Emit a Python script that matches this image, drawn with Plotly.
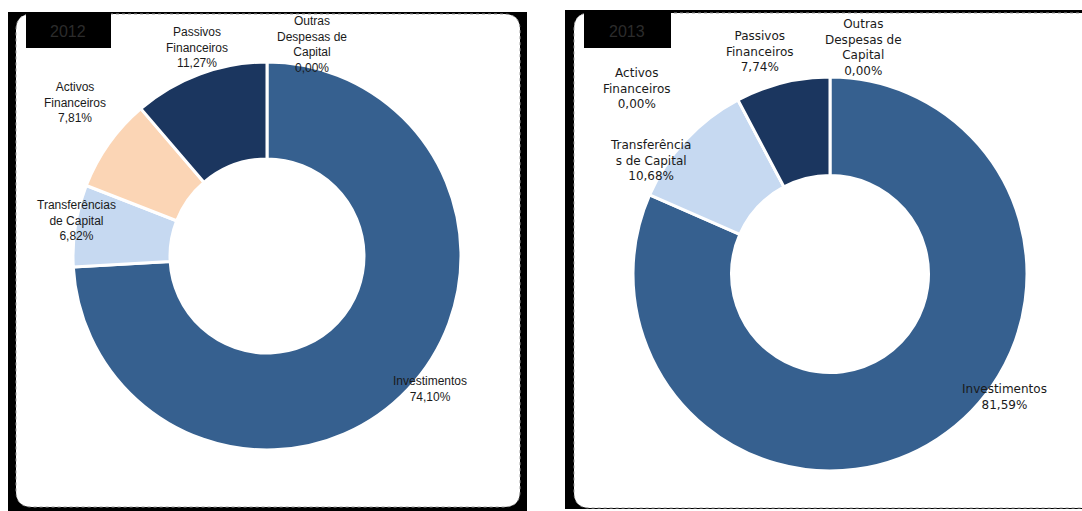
import plotly.graph_objects as go

# Capital expenditure structure, two years
categories = ["Outras Despesas de Capital", "Investimentos", "Transferências de Capital",
              "Activos Financeiros", "Passivos Financeiros"]
years = ["2012", "2013"]
values_left = [0.00, 74.10, 6.82, 7.81, 11.27]
values_right = [0.00, 81.59, 10.68, 0.00, 7.74]

colors = ["#36608F", "#36608F", "#C6D9F1", "#FBD5B5", "#1B365F"]

# how each category name is wrapped in each panel
wrap_left = {
    "Outras Despesas de Capital": "Outras<br>Despesas de<br>Capital",
    "Investimentos": "Investimentos",
    "Transferências de Capital": "Transferências<br>de Capital",
    "Activos Financeiros": "Activos<br>Financeiros",
    "Passivos Financeiros": "Passivos<br>Financeiros",
}
wrap_right = dict(wrap_left)
wrap_right["Transferências de Capital"] = "Transferência<br>s de Capital"

W, H = 1082, 511


def px(x):
    return x / W


def py(y):
    return 1 - y / H


def pct(v):
    return f"{v:.2f}".replace(".", ",") + "%"


fig = go.Figure()


def add_pie(values, cx, cy, r):
    fig.add_trace(go.Pie(
        labels=categories, values=values, sort=False, direction="clockwise",
        rotation=0, hole=0.5, textinfo="none", hoverinfo="label+percent",
        marker=dict(colors=colors, line=dict(color="white", width=3)),
        domain=dict(x=[px(cx - r), px(cx + r)], y=[py(cy + r), py(cy - r)]),
        showlegend=False,
    ))


add_pie(values_left, 267, 256, 194)
add_pie(values_right, 830, 274, 197)

shapes = []


def rounded(x0, y0, x1, y1, rad):
    X0, X1 = px(x0), px(x1)
    Y0, Y1 = py(y0), py(y1)
    rx, ry = rad / W, rad / H
    return (f"M {X0+rx},{Y0} L {X1-rx},{Y0} Q {X1},{Y0} {X1},{Y0-ry} "
            f"L {X1},{Y1+ry} Q {X1},{Y1} {X1-rx},{Y1} L {X0+rx},{Y1} "
            f"Q {X0},{Y1} {X0},{Y1+ry} L {X0},{Y0-ry} Q {X0},{Y0} {X0+rx},{Y0} Z")


# left panel frame
shapes.append(dict(type="rect", xref="paper", yref="paper", x0=px(8), x1=px(527),
                   y0=py(511), y1=py(12), fillcolor="black", line=dict(width=0), layer="below"))
shapes.append(dict(type="path", xref="paper", yref="paper", path=rounded(16, 14, 520, 507, 16),
                   fillcolor="white", line=dict(color="#9a9a9a", width=1, dash="dot"), layer="below"))
# right panel frame
shapes.append(dict(type="rect", xref="paper", yref="paper", x0=px(565), x1=px(1090),
                   y0=py(509), y1=py(10), fillcolor="black", line=dict(width=0), layer="below"))
shapes.append(dict(type="path", xref="paper", yref="paper", path=rounded(574, 13, 1110, 508, 16),
                   fillcolor="white", line=dict(color="#9a9a9a", width=1, dash="dot"), layer="below"))
# year boxes
for x0, x1 in [(26, 111), (584, 671)]:
    shapes.append(dict(type="rect", xref="paper", yref="paper", x0=px(x0), x1=px(x1),
                       y0=py(48), y1=py(12), fillcolor="black", line=dict(width=0), layer="below"))

annotations = []
for year, xc in zip(years, [68, 627]):
    annotations.append(dict(x=px(xc), y=py(31), xref="paper", yref="paper", text=year,
                            xanchor="center", yanchor="middle", showarrow=False,
                            font=dict(family="Liberation Sans", size=16, color="#2c2c2c")))

label_pos_left = {
    "Outras Despesas de Capital": (312, 44),
    "Investimentos": (430, 389),
    "Transferências de Capital": (76, 220),
    "Activos Financeiros": (75, 102),
    "Passivos Financeiros": (197, 47),
}
label_pos_right = {
    "Outras Despesas de Capital": (863, 47),
    "Investimentos": (1004, 397),
    "Transferências de Capital": (650, 160),
    "Activos Financeiros": (637, 88),
    "Passivos Financeiros": (760, 51),
}

for cat, v in zip(categories, values_left):
    x, y = label_pos_left[cat]
    annotations.append(dict(x=px(x), y=py(y), xref="paper", yref="paper",
                            xanchor="center", yanchor="middle",
                            text=f"{wrap_left[cat]}<br>{pct(v)}", showarrow=False, align="center",
                            font=dict(family="Liberation Sans", size=12, color="#1a1a1a")))
for cat, v in zip(categories, values_right):
    x, y = label_pos_right[cat]
    annotations.append(dict(x=px(x), y=py(y), xref="paper", yref="paper",
                            xanchor="center", yanchor="middle",
                            text=f"{wrap_right[cat]}<br>{pct(v)}", showarrow=False, align="center",
                            font=dict(family="DejaVu Sans", size=12, color="#1a1a1a")))

fig.update_layout(
    width=W, height=H, margin=dict(l=0, r=0, t=0, b=0),
    paper_bgcolor="white", plot_bgcolor="white",
    shapes=shapes, annotations=annotations,
)

fig.write_html("out.html", config={"displayModeBar": False})
